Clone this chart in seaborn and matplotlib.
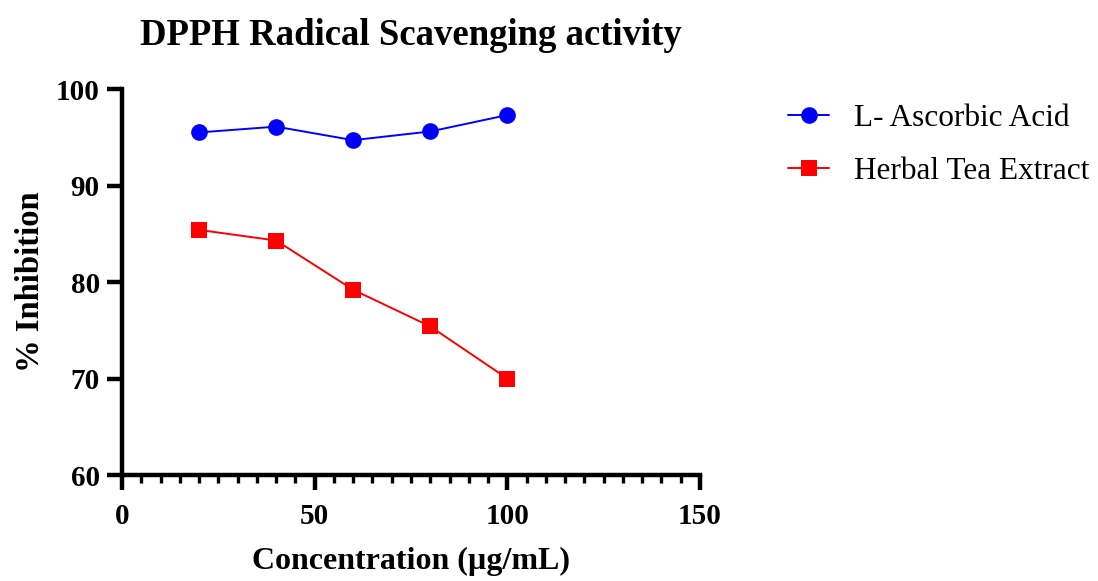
import pandas as pd
import seaborn as sns
import matplotlib.pyplot as plt
from matplotlib.ticker import MultipleLocator

# Data
concentration = [20, 40, 60, 80, 100]
ascorbic = [95.5, 96.1, 94.7, 95.6, 97.3]
herbal = [85.4, 84.3, 79.2, 75.4, 70.0]
series_names = ['L- Ascorbic Acid', 'Herbal Tea Extract']

df = pd.DataFrame({
    'conc': concentration * 2,
    'inhib': ascorbic + herbal,
    'series': [series_names[0]] * 5 + [series_names[1]] * 5,
})

sns.set_style('ticks')
plt.rcParams['font.family'] = ['Liberation Serif', 'DejaVu Serif']
plt.rcParams['text.color'] = 'black'
plt.rcParams['axes.labelcolor'] = 'black'
plt.rcParams['xtick.color'] = 'black'
plt.rcParams['ytick.color'] = 'black'
plt.rcParams['axes.edgecolor'] = 'black'

fig = plt.figure(figsize=(10.98, 5.81), dpi=100)
ax = fig.add_axes([0.1111, 0.1824, 0.5264, 0.6644])

sns.lineplot(data=df, x='conc', y='inhib', hue='series', style='series',
             palette={series_names[0]: '#0000ff', series_names[1]: '#ff0000'},
             markers={series_names[0]: 'o', series_names[1]: 's'},
             dashes=False, markersize=12, markeredgewidth=0, linewidth=1.4,
             ax=ax)

ax.set_xlim(0, 150)
ax.set_ylim(60, 100)
ax.xaxis.set_major_locator(MultipleLocator(50))
ax.xaxis.set_minor_locator(MultipleLocator(5))
ax.yaxis.set_major_locator(MultipleLocator(10))
sns.despine(ax=ax)
for s in ['left', 'bottom']:
    ax.spines[s].set_linewidth(3.2)
ax.tick_params(which='major', length=11, width=3.2, labelsize=21, pad=5)
ax.tick_params(axis='x', which='major', pad=9)
ax.tick_params(axis='x', which='minor', length=6, width=2.4)
for lab in ax.get_xticklabels() + ax.get_yticklabels():
    lab.set_fontweight('bold')

ax.set_xlabel('Concentration (µg/mL)', fontsize=23, fontweight='bold', labelpad=12)
ax.set_ylabel('% Inhibition', fontsize=23.5, fontweight='bold', labelpad=7)
ax.set_title('DPPH Radical Scavenging activity', fontsize=26.5, fontweight='bold', pad=32)

leg = ax.legend(loc='upper left', bbox_to_anchor=(1.104, 1.033), frameon=False,
                fontsize=22.5, handlelength=1.3, handletextpad=0.8, labelspacing=0.75)
for h in leg.legend_handles:
    h.set_markersize(12)
    h.set_markeredgewidth(0)
    h.set_linewidth(1.4)

fig.savefig('out.png', dpi=100)
